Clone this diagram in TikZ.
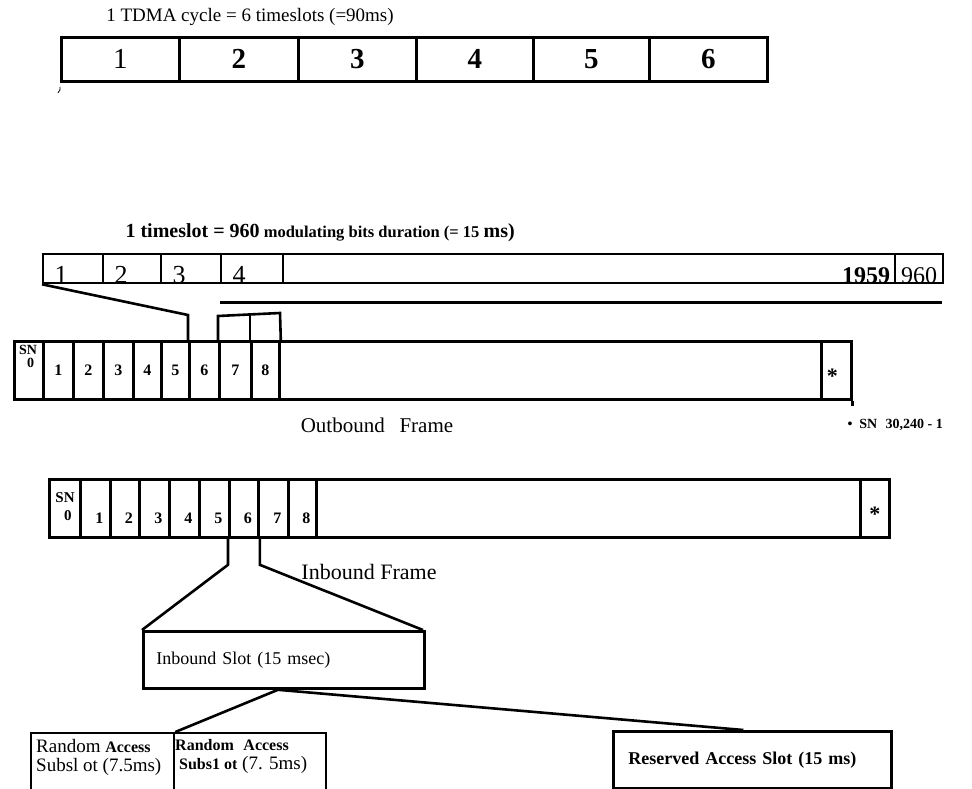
\documentclass[tikz,border=0pt]{standalone}
\usepackage{fontspec}
\setmainfont{Liberation Serif}
\begin{document}
\begin{tikzpicture}[x=1pt, y=-1pt,
    frame/.style={draw, line width=2.8pt, inner sep=0pt, anchor=north west},
    cycbox/.style={frame, minimum height=44pt, font=\fontsize{29}{30}\selectfont},
    tsbox/.style={frame, line width=2.3pt, minimum height=29pt},
    obbox/.style={frame, minimum height=58pt, font=\bfseries\fontsize{16}{18}\selectfont},
    ibbox/.style={frame, minimum height=58pt},
    conn/.style={line width=2.6pt},
    num/.style={font=\bfseries\fontsize{16}{18}\selectfont, inner sep=0pt},
    star/.style={inner sep=0pt, font=\bfseries\fontsize{22}{24}\selectfont}]
    \useasboundingbox (0,0) rectangle (972,789);

    % TDMA cycle
    \node[font=\fontsize{19}{21}\selectfont] (cyctitle) at (250,17) {1 TDMA cycle = 6 timeslots (=90ms)};
    \foreach \n/\xa/\xb/\lab in {1/60/178/1, 2/178/297/\textbf{2}, 3/297/415/\textbf{3},
        4/415/532/\textbf{4}, 5/532/648/\textbf{5}, 6/648/766/\textbf{6}}{
        \pgfmathsetmacro\w{\xb-\xa}
        \node[cycbox, minimum width=\w pt] (cyc\n) at (\xa,36) {\lab};
    }
    \draw[line width=0.8pt] ([yshift=-4pt]cyc1.south west) to[bend left] ++(-2,6);

    % One timeslot
    \node[anchor=west, font=\bfseries\fontsize{16.5}{18}\selectfont] (tstitle) at (122,233)
        {{\fontsize{20}{22}\selectfont 1 timeslot = 960} modulating bits duration (= 15 {\fontsize{20}{22}\selectfont ms)}};
    \foreach \n/\xa/\xb in {1/42/102, 2/102/160, 3/160/220, 4/220/282, 5/282/894, 6/894/942}{
        \pgfmathsetmacro\w{\xb-\xa}
        \node[tsbox, minimum width=\w pt] (ts\n) at (\xa,253) {};
    }
    \foreach \n in {1,...,4}{
        \node[anchor=base, font=\fontsize{26}{28}\selectfont, inner sep=0pt] (tsl\n) at ([xshift=19pt, yshift=1pt]ts\n.south west) {\n};
    }
    \node[anchor=base east, font=\bfseries\fontsize{24}{26}\selectfont, inner sep=0pt] (tsl5) at ([xshift=-6pt, yshift=1pt]ts5.south east) {1959};
    \node[anchor=base, font=\fontsize{24}{26}\selectfont, inner sep=0pt] (tsl6) at ([yshift=1pt]ts6.south) {960};
    \draw[line width=3.3pt] ([yshift=-18pt]ts4.south west) -- ([yshift=-18pt, xshift=-2pt]ts6.south east);

    % Outbound frame
    \foreach \n/\xa/\xb/\lab in {0/13/42/{}, 1/42/72/1, 2/72/102/2, 3/102/132/3, 4/132/160/4, 5/160/188/5,
        6/188/218/6, 7/218/250/7, 8/250/278/8, r/278/820/{}, s/820/850/{}}{
        \pgfmathsetmacro\w{\xb-\xa}
        \node[obbox, minimum width=\w pt] (ob\n) at (\xa,340) {\lab};
    }
    \node[num, anchor=north, align=center, font=\bfseries\fontsize{14}{13}\selectfont] (obsn) at (28,345) {SN\\\hspace{5pt}0};
    \node[star] (obstar) at ([xshift=-4pt, yshift=-6pt]obs.center) {*};
    \draw[line width=2.8pt] (obs.south east) -- ++(0,5);
    \coordinate (cut1) at (188,315);
    \coordinate (brkl) at (218,316);
    \coordinate (brkr) at (280,313);
    \draw[conn] (ts1.south west) -- (cut1) -- (ob6.north west);
    \draw[conn] (ob7.north west) -- (brkl) -- (brkr) -- (ob8.north east);
    \draw[conn] (ob8.north west) -- ++(0,-25);
    \node[font=\fontsize{21}{24}\selectfont] (obtitle) at (377,425) {Outbound\hspace{0.7em}Frame};
    \node[anchor=west, font=\bfseries\fontsize{14}{16}\selectfont] (snlast) at (844,425) {•\hspace{0.5em}SN\hspace{0.6em}30,240 - 1};

    % Inbound frame
    \foreach \n/\xa/\xb/\lab in {0/48/79/{}, 1/79/109/1, 2/109/138/2, 3/138/168/3, 4/168/198/4, 5/198/228/5,
        6/228/257/6, 7/257/287/7, 8/287/315/8, r/315/859/{}, s/859/888/{}}{
        \pgfmathsetmacro\w{\xb-\xa}
        \node[ibbox, minimum width=\w pt] (ib\n) at (\xa,478) {};
        \node[num] (ibl\n) at ([xshift=4pt, yshift=-10pt]ib\n.center) {\lab};
    }
    \node[num, align=center, font=\bfseries\fontsize{15}{18}\selectfont] (ibsn) at (65,507) {SN\\\hspace{6pt}0};
    \node[star] (ibstar) at ([yshift=-6pt]ibs.center) {*};
    \draw[conn] (ib6.south west) -- ++(0,26) -- (142,630);
    \draw[conn] (ib6.south east) -- ++(0,26) -- (423,630);
    \node[font=\fontsize{22}{24}\selectfont] (ibtitle) at (369,572) {Inbound Frame};

    % Inbound slot
    \node[frame, minimum height=57pt, text width=255pt, inner xsep=13pt, align=left,
        font=\fontsize{18}{20}\selectfont] (slot) at (142,630) {Inbound Slot (15 msec)};
    \node[frame, line width=2.3pt, minimum width=143pt, minimum height=66pt] (ra1) at (30,732) {};
    \node[frame, line width=2.3pt, minimum width=152pt, minimum height=66pt] (ra2) at (173,732) {};
    \node[frame, minimum height=57pt, text width=248pt, inner xsep=15pt, align=left,
        font=\bfseries\fontsize{18}{20}\selectfont] (res) at (612,730) {Reserved Access Slot (15 ms)};
    \node[anchor=north west, align=left, inner sep=0pt, font=\fontsize{19}{19}\selectfont] (ratx1) at (36,739)
        {Random {\bfseries\fontsize{16}{16}\selectfont Access}\\Subsl ot (7.5ms)};
    \node[anchor=north west, align=left, inner sep=0pt, font=\fontsize{19}{19}\selectfont] (ratx2) at (175,739)
        {{\bfseries\fontsize{16}{16}\selectfont Random\hspace{0.6em}Access}\\\hspace{4pt}{\bfseries\fontsize{16}{16}\selectfont Subs1 ot} (7. 5ms)};
    \coordinate (fork) at ([xshift=-6pt]slot.south);
    \draw[conn] (fork) -- (ra1.north east);
    \draw[conn] (fork) -- ([xshift=-9pt]res.north);
\end{tikzpicture}
\end{document}
